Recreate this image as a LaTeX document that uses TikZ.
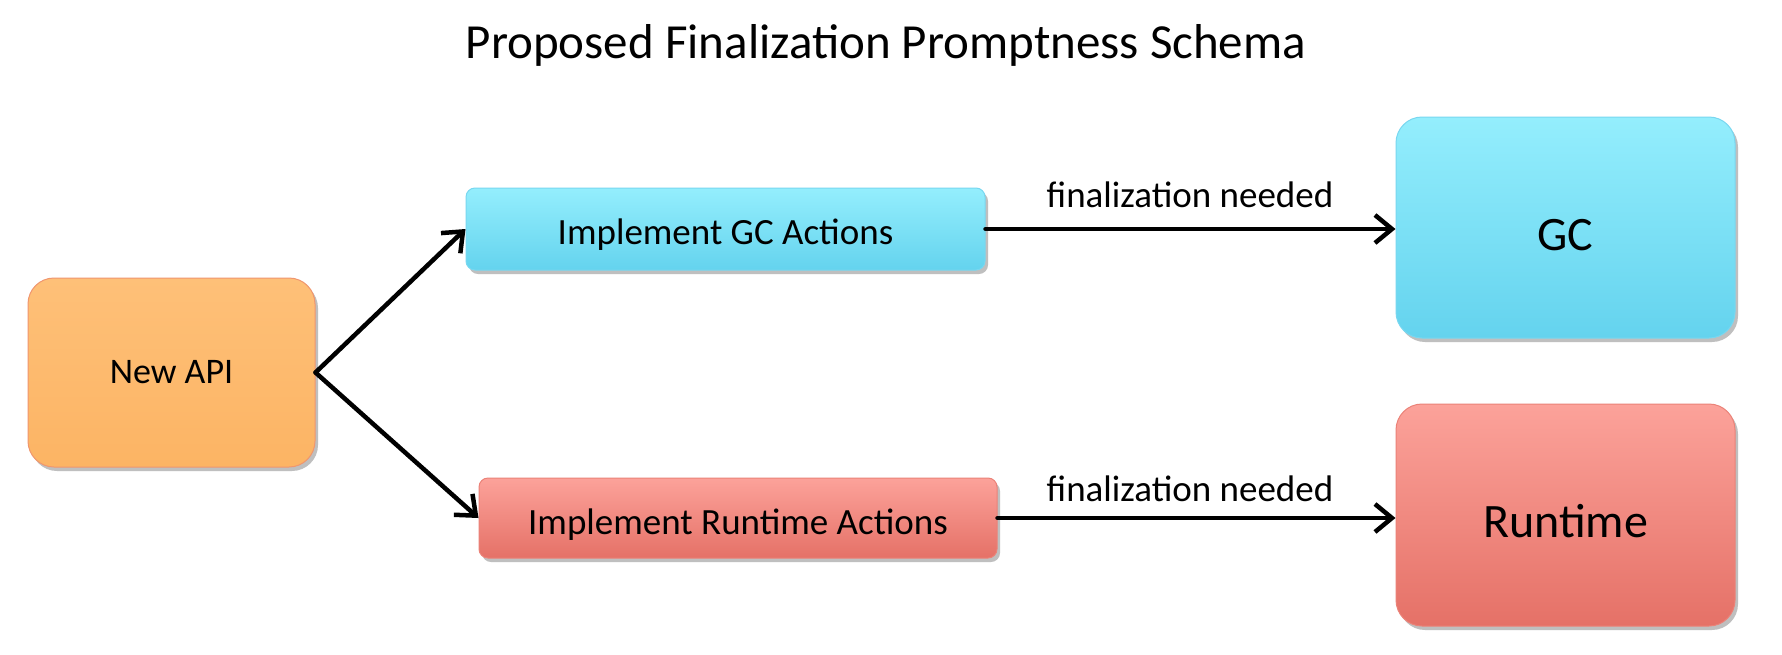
\documentclass[tikz,border=0pt]{standalone}
\usepackage{fontspec}
\setmainfont{Carlito}
\usetikzlibrary{arrows.meta,shadows}
\definecolor{orTop}{RGB}{254,192,120}
\definecolor{orBot}{RGB}{252,180,100}
\definecolor{orEdge}{RGB}{240,150,110}
\definecolor{blTop}{RGB}{148,238,253}
\definecolor{blBot}{RGB}{100,211,238}
\definecolor{blEdge}{RGB}{120,215,240}
\definecolor{rdTop}{RGB}{252,162,154}
\definecolor{rdBot}{RGB}{229,113,103}
\definecolor{rdEdge}{RGB}{235,130,120}
\tikzset{
  boxbase/.style={rectangle, inner sep=0pt, line width=1pt,
    drop shadow={shadow xshift=3pt, shadow yshift=-4pt, fill=black!45, opacity=0.55}},
  orbox/.style={boxbase, draw=orEdge, top color=orTop, bottom color=orBot, rounded corners=26pt},
  bigblue/.style={boxbase, draw=blEdge, top color=blTop, bottom color=blBot, rounded corners=26pt},
  bigred/.style={boxbase, draw=rdEdge, top color=rdTop, bottom color=rdBot, rounded corners=26pt},
  smallblue/.style={boxbase, draw=blEdge, top color=blTop, bottom color=blBot, rounded corners=9pt},
  smallred/.style={boxbase, draw=rdEdge, top color=rdTop, bottom color=rdBot, rounded corners=9pt},
  conn/.style={line width=4.5pt, -{Straight Barb[length=17pt,width=28pt,line width=4.5pt]}, line cap=round, line join=round},
  lbl/.style={font=\fontsize{37}{40}\selectfont, inner sep=0pt}
}
\begin{document}
\begin{tikzpicture}[x=1pt,y=-1pt]
\useasboundingbox[fill=white] (0,0) rectangle (1782,654);
\node[font=\fontsize{49}{52}\selectfont, inner sep=0pt] (title) at (886,45) {Proposed Finalization Promptness Schema};
\node[orbox, minimum width=287pt, minimum height=189pt, font=\fontsize{36}{40}\selectfont] (newapi) at (171.5,372.5) {New API};
\node[smallblue, minimum width=519pt, minimum height=82pt, font=\fontsize{37}{40}\selectfont, text height=30pt, text depth=0pt] (gca) at (725.5,229) {Implement GC Actions};
\node[smallred, minimum width=518pt, minimum height=80pt, font=\fontsize{37}{40}\selectfont, text height=33pt, text depth=0pt] (rta) at (738,518) {Implement Runtime Actions};
\node[bigblue, minimum width=339pt, minimum height=221pt, font=\fontsize{48}{52}\selectfont, text height=45pt, text depth=0pt] (gc) at (1565.5,227.5) {GC};
\node[bigred, minimum width=339pt, minimum height=222pt, font=\fontsize{48}{52}\selectfont, text height=45pt, text depth=0pt] (rt) at (1565.5,515) {Runtime};
\draw[conn] (newapi.east) -- (gca.west);
\draw[conn] (newapi.east) -- (rta.west);
\draw[conn] (gca.east) -- (gca.east -| gc.west);
\draw[conn] (rta.east) -- (rta.east -| rt.west);
\node[lbl] (l1) at (1190,195) {finalization needed};
\node[lbl] (l2) at (1190,489) {finalization needed};
\end{tikzpicture}
\end{document}
